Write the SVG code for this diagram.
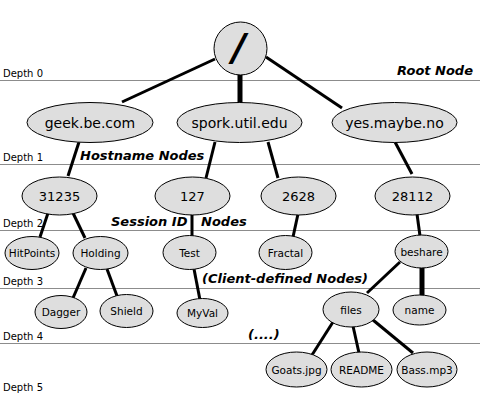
<svg xmlns="http://www.w3.org/2000/svg" width="480" height="401" viewBox="0 0 480 401">
<style>
.bg{fill:#ffffff}
.depth{stroke:#8c8c8c;stroke-width:1}
.dl{font-family:"DejaVu Sans",sans-serif;font-size:10px;fill:#000}
.cap{font-family:"DejaVu Sans",sans-serif;font-size:13px;font-weight:bold;font-style:italic;fill:#000;white-space:pre}
.node ellipse,.node circle{fill:#dedede;stroke:#000;stroke-width:1}
.node text{font-family:"DejaVu Sans",sans-serif;fill:#000;text-anchor:middle}
.l1 text{font-size:14px}
.l2 text{font-size:13px}
.l3 text{font-size:10.5px}
#edges line{stroke:#000;stroke-width:3}
#edges line.thick{stroke-width:5}
</style>
<rect class="bg" x="0" y="0" width="480" height="401"/>
<g id="depth-lines">
<line class="depth" x1="0" y1="80.5" x2="480" y2="80.5"/>
<line class="depth" x1="0" y1="164.5" x2="480" y2="164.5"/>
<line class="depth" x1="0" y1="230.5" x2="480" y2="230.5"/>
<line class="depth" x1="0" y1="288.5" x2="480" y2="288.5"/>
<line class="depth" x1="0" y1="343.5" x2="480" y2="343.5"/>
</g>
<g id="depth-labels">
<text class="dl" x="3" y="77">Depth 0</text>
<text class="dl" x="3" y="161">Depth 1</text>
<text class="dl" x="3" y="227">Depth 2</text>
<text class="dl" x="3" y="285">Depth 3</text>
<text class="dl" x="3" y="340">Depth 4</text>
<text class="dl" x="3" y="391">Depth 5</text>
</g>
<g id="captions">
<text class="cap" x="473" y="75" text-anchor="end">Root Node</text>
<text class="cap" x="80" y="160">Hostname Nodes</text>
<text class="cap" x="111" y="226">Session ID   Nodes</text>
<text class="cap" x="202" y="283">(Client-defined Nodes)</text>
<text class="cap" x="248" y="339">(....)</text>
</g>
<g id="edges">
<line x1="215" y1="59" x2="122" y2="102"/>
<line class="thick" x1="240" y1="74" x2="240" y2="103"/>
<line x1="266" y1="57" x2="342" y2="108"/>
<line x1="79" y1="142" x2="68" y2="176"/>
<line x1="215" y1="142" x2="206" y2="178"/>
<line x1="268" y1="142" x2="278" y2="178"/>
<line x1="395" y1="142" x2="412" y2="174"/>
<line x1="48" y1="213" x2="40" y2="237"/>
<line x1="73" y1="213" x2="85" y2="238"/>
<line x1="192" y1="214" x2="192" y2="236"/>
<line x1="298" y1="214" x2="293" y2="237"/>
<line x1="417" y1="214" x2="420" y2="236"/>
<line x1="86" y1="268" x2="73" y2="298"/>
<line x1="107" y1="269" x2="117" y2="296"/>
<line x1="194" y1="269" x2="200" y2="300"/>
<line x1="400" y1="262" x2="367" y2="293"/>
<line class="thick" x1="422" y1="267" x2="422" y2="296"/>
<line x1="333" y1="322" x2="312" y2="355"/>
<line x1="353" y1="326" x2="359" y2="353"/>
<line x1="373" y1="320" x2="413" y2="353"/>
</g>
<g id="root" class="node">
<circle cx="240.5" cy="48.5" r="26.5"/>
<text x="239" y="60" style="font-size:38px;font-weight:bold;font-style:oblique">/</text>
</g>
<g id="n-geek" class="node l1"><ellipse cx="90" cy="122.5" rx="63" ry="20"/><text x="90" y="127.5">geek.be.com</text></g>
<g id="n-spork" class="node l1"><ellipse cx="239.5" cy="122.5" rx="62.5" ry="20"/><text x="239.5" y="127.5">spork.util.edu</text></g>
<g id="n-yes" class="node l1"><ellipse cx="394.5" cy="122.5" rx="62.5" ry="20"/><text x="394.5" y="127.5">yes.maybe.no</text></g>
<g id="n-31235" class="node l2"><ellipse cx="59.5" cy="196" rx="37.5" ry="19"/><text x="59.5" y="200.5">31235</text></g>
<g id="n-127" class="node l2"><ellipse cx="192.5" cy="196" rx="37.5" ry="19"/><text x="192.5" y="200.5">127</text></g>
<g id="n-2628" class="node l2"><ellipse cx="298.5" cy="196" rx="37.5" ry="19"/><text x="298.5" y="200.5">2628</text></g>
<g id="n-28112" class="node l2"><ellipse cx="412.5" cy="196" rx="37.5" ry="19"/><text x="412.5" y="200.5">28112</text></g>
<g id="n-hitpoints" class="node l3"><ellipse cx="32" cy="253" rx="27" ry="16.5"/><text x="32" y="257">HitPoints</text></g>
<g id="n-holding" class="node l3"><ellipse cx="100.5" cy="253" rx="27.5" ry="16.5"/><text x="100.5" y="257">Holding</text></g>
<g id="n-test" class="node l3"><ellipse cx="189.5" cy="252.5" rx="26.5" ry="17"/><text x="189.5" y="256.5">Test</text></g>
<g id="n-fractal" class="node l3"><ellipse cx="285.5" cy="252.5" rx="26.5" ry="17"/><text x="285.5" y="256.5">Fractal</text></g>
<g id="n-beshare" class="node l3"><ellipse cx="421.5" cy="251.5" rx="26.5" ry="16.5"/><text x="421.5" y="255.5">beshare</text></g>
<g id="n-dagger" class="node l3"><ellipse cx="61" cy="312" rx="26" ry="16.5"/><text x="61" y="316">Dagger</text></g>
<g id="n-shield" class="node l3"><ellipse cx="126.5" cy="311" rx="26.5" ry="16.5"/><text x="126.5" y="315">Shield</text></g>
<g id="n-myval" class="node l3"><ellipse cx="202.5" cy="313" rx="25.5" ry="14.5"/><text x="202.5" y="317">MyVal</text></g>
<g id="n-files" class="node l3"><ellipse cx="351" cy="309.5" rx="28" ry="17.5"/><text x="351" y="313.5">files</text></g>
<g id="n-name" class="node l3"><ellipse cx="419.5" cy="310" rx="26.5" ry="15"/><text x="419.5" y="314">name</text></g>
<g id="n-goats" class="node l3"><ellipse cx="296.5" cy="369.5" rx="30.5" ry="17.5"/><text x="296.5" y="373.5">Goats.jpg</text></g>
<g id="n-readme" class="node l3"><ellipse cx="361.5" cy="369.5" rx="30.5" ry="17.5"/><text x="361.5" y="373.5">README</text></g>
<g id="n-bass" class="node l3"><ellipse cx="427" cy="369.5" rx="30" ry="17.5"/><text x="427" y="373.5">Bass.mp3</text></g>
</svg>
